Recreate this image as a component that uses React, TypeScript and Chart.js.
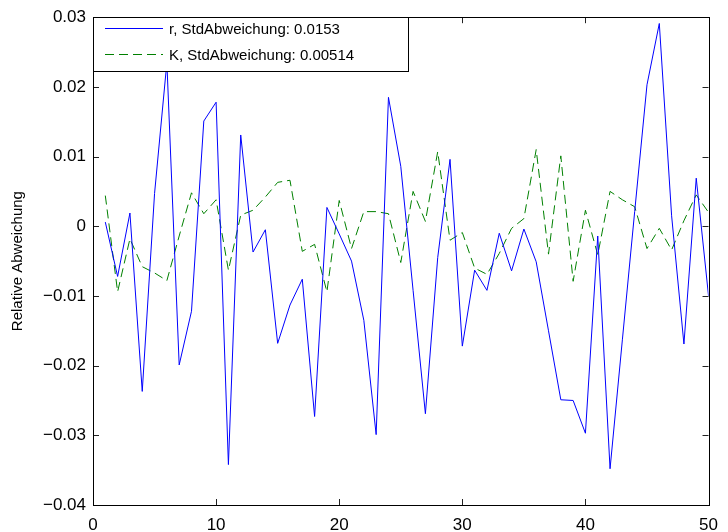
import React, { useEffect, useRef } from "react";
import { Chart, registerables } from "chart.js";

Chart.register(...registerables);

const steps = [
  1, 2, 3, 4, 5, 6, 7, 8, 9, 10, 11, 12, 13, 14, 15, 16, 17, 18, 19, 20, 21, 22, 23, 24, 25,
  26, 27, 28, 29, 30, 31, 32, 33, 34, 35, 36, 37, 38, 39, 40, 41, 42, 43, 44, 45, 46, 47, 48, 49, 50,
];

const rValues = [
  0.0006, -0.0072, 0.0019, -0.0237, 0.0047, 0.0235, -0.0199, -0.0122, 0.0151, 0.0178,
  -0.0342, 0.0131, -0.0037, -0.0005, -0.0168, -0.0113, -0.0076, -0.0273, 0.0027, -0.0011,
  -0.005, -0.0135, -0.0299, 0.0185, 0.0086, -0.0092, -0.0269, -0.0045, 0.0096, -0.0172,
  -0.0063, -0.0092, -0.001, -0.0064, -0.0004, -0.0051, -0.015, -0.0249, -0.025, -0.0297,
  -0.0014, -0.0348, -0.0163, 0.0021, 0.0203, 0.0291, 0.0015, -0.0169, 0.0069, -0.01,
];

const kValues = [
  0.0044, -0.0094, -0.0018, -0.0058, -0.0067, -0.0078, -0.0014, 0.0048, 0.0018, 0.0038,
  -0.0063, 0.0016, 0.0023, 0.0042, 0.0063, 0.0066, -0.0036, -0.0026, -0.0094, 0.0037,
  -0.0032, 0.0021, 0.0021, 0.0018, -0.0052, 0.005, 0.0007, 0.0107, -0.002, -0.0009,
  -0.006, -0.0069, -0.0039, -0.0003, 0.0011, 0.011, -0.004, 0.0101, -0.0079, 0.0023,
  -0.0041, 0.005, 0.0038, 0.0028, -0.0032, -0.0003, -0.0034, 0.0008, 0.0045, 0.002,
];

const seriesLabels = ["r, StdAbweichung: 0.0153", "K, StdAbweichung: 0.00514"];
const xTickValues = [0, 10, 20, 30, 40, 50];
const yTickValues = [-0.04, -0.03, -0.02, -0.01, 0, 0.01, 0.02, 0.03];
const yAxisTitle = "Relative Abweichung";

const FONT = "'Liberation Sans', Arial, Helvetica, sans-serif";
const BLUE = "rgb(0,0,255)";
const GREEN = "rgb(0,128,0)";
const DASH = [9, 5];

const framePlugin = {
  id: "matlabFrame",
  afterDatasetsDraw(chart: any) {
    const { ctx, chartArea } = chart;
    const { left, right, top, bottom } = chartArea;
    const xs = chart.scales.x;
    const ys = chart.scales.y;
    ctx.save();
    ctx.lineWidth = 1;
    ctx.strokeStyle = "#222";
    const tl = 6;
    ctx.beginPath();
    xTickValues.forEach((v) => {
      const px = Math.round(xs.getPixelForValue(v)) + 0.5;
      ctx.moveTo(px, bottom);
      ctx.lineTo(px, bottom - tl);
      ctx.moveTo(px, top);
      ctx.lineTo(px, top + tl);
    });
    yTickValues.forEach((v) => {
      const py = Math.round(ys.getPixelForValue(v)) + 0.5;
      ctx.moveTo(left, py);
      ctx.lineTo(left + tl, py);
      ctx.moveTo(right, py);
      ctx.lineTo(right - tl, py);
    });
    ctx.stroke();

    // legend box
    const lx0 = Math.round(left) + 0.5;
    const ly0 = Math.round(top) + 0.5;
    const lx1 = 408.5;
    const ly1 = 71.5;
    ctx.fillStyle = "#fff";
    ctx.fillRect(lx0, ly0, lx1 - lx0, ly1 - ly0);
    ctx.strokeStyle = "#000";
    ctx.strokeRect(lx0, ly0, lx1 - lx0, ly1 - ly0);
    const rows = [
      { y: 28.5, color: BLUE, dash: [] as number[], text: seriesLabels[0] },
      { y: 54.5, color: GREEN, dash: DASH, text: seriesLabels[1] },
    ];
    rows.forEach((r) => {
      ctx.beginPath();
      ctx.setLineDash(r.dash);
      ctx.strokeStyle = r.color;
      ctx.moveTo(105, r.y);
      ctx.lineTo(163, r.y);
      ctx.stroke();
      ctx.setLineDash([]);
      ctx.fillStyle = "#000";
      ctx.font = `15px ${FONT}`;
      ctx.textBaseline = "middle";
      ctx.textAlign = "left";
      ctx.fillText(r.text, 169, r.y + 1);
    });

    // axes box
    ctx.strokeStyle = "#000";
    ctx.strokeRect(Math.round(left) + 0.5, Math.round(top) + 0.5, Math.round(right - left), Math.round(bottom - top));
    ctx.restore();
  },
};

function fmtY(v: number) {
  const r = Math.round(v * 100) / 100;
  if (r === 0) return "0";
  return (r < 0 ? "\u2212" : "") + Math.abs(r).toFixed(2);
}

export default function App() {
  const ref = useRef<HTMLCanvasElement | null>(null);
  useEffect(() => {
    document.body.style.margin = "0";
    const canvas = ref.current!;
    const chart = new Chart(canvas, {
      type: "line",
      data: {
        datasets: [
          {
            label: seriesLabels[0],
            data: steps.map((s, i) => ({ x: s, y: rValues[i] })),
            borderColor: BLUE,
            borderWidth: 1,
            pointRadius: 0,
            tension: 0,
            fill: false,
          },
          {
            label: seriesLabels[1],
            data: steps.map((s, i) => ({ x: s, y: kValues[i] })),
            borderColor: GREEN,
            borderWidth: 1,
            borderDash: DASH,
            pointRadius: 0,
            tension: 0,
            fill: false,
          },
        ],
      },
      options: {
        animation: false,
        responsive: false,
        devicePixelRatio: 1,
        layout: { padding: { top: 13, right: 11, left: 0, bottom: 0 } },
        plugins: { legend: { display: false }, tooltip: { enabled: false } },
        scales: {
          x: {
            type: "linear",
            min: 0,
            max: 50,
            afterFit: (s: any) => {
              s.height = 27;
            },
            afterBuildTicks: (s: any) => {
              s.ticks = xTickValues.map((v) => ({ value: v }));
            },
            grid: { display: false, drawTicks: false },
            border: { display: false },
            ticks: {
              padding: 10,
              maxRotation: 0,
              color: "#000",
              font: { family: FONT, size: 17 },
            },
          },
          y: {
            type: "linear",
            min: -0.04,
            max: 0.03,
            afterFit: (s: any) => {
              s.width = 93;
            },
            afterBuildTicks: (s: any) => {
              s.ticks = yTickValues.map((v) => ({ value: v }));
            },
            grid: { display: false, drawTicks: false },
            border: { display: false },
            ticks: {
              padding: 7,
              color: "#000",
              font: { family: FONT, size: 17 },
              callback: (v: any) => fmtY(Number(v)),
            },
            title: {
              display: true,
              text: yAxisTitle,
              color: "#000",
              font: { family: FONT, size: 15 },
              padding: { top: 9, bottom: 0 },
            },
          },
        },
      },
      plugins: [framePlugin],
    });
    return () => chart.destroy();
  }, []);
  return (
    <div style={{ position: "absolute", left: 0, top: 0, width: 728, height: 532, background: "#fff" }}>
      <canvas ref={ref} width={728} height={532} />
    </div>
  );
}
